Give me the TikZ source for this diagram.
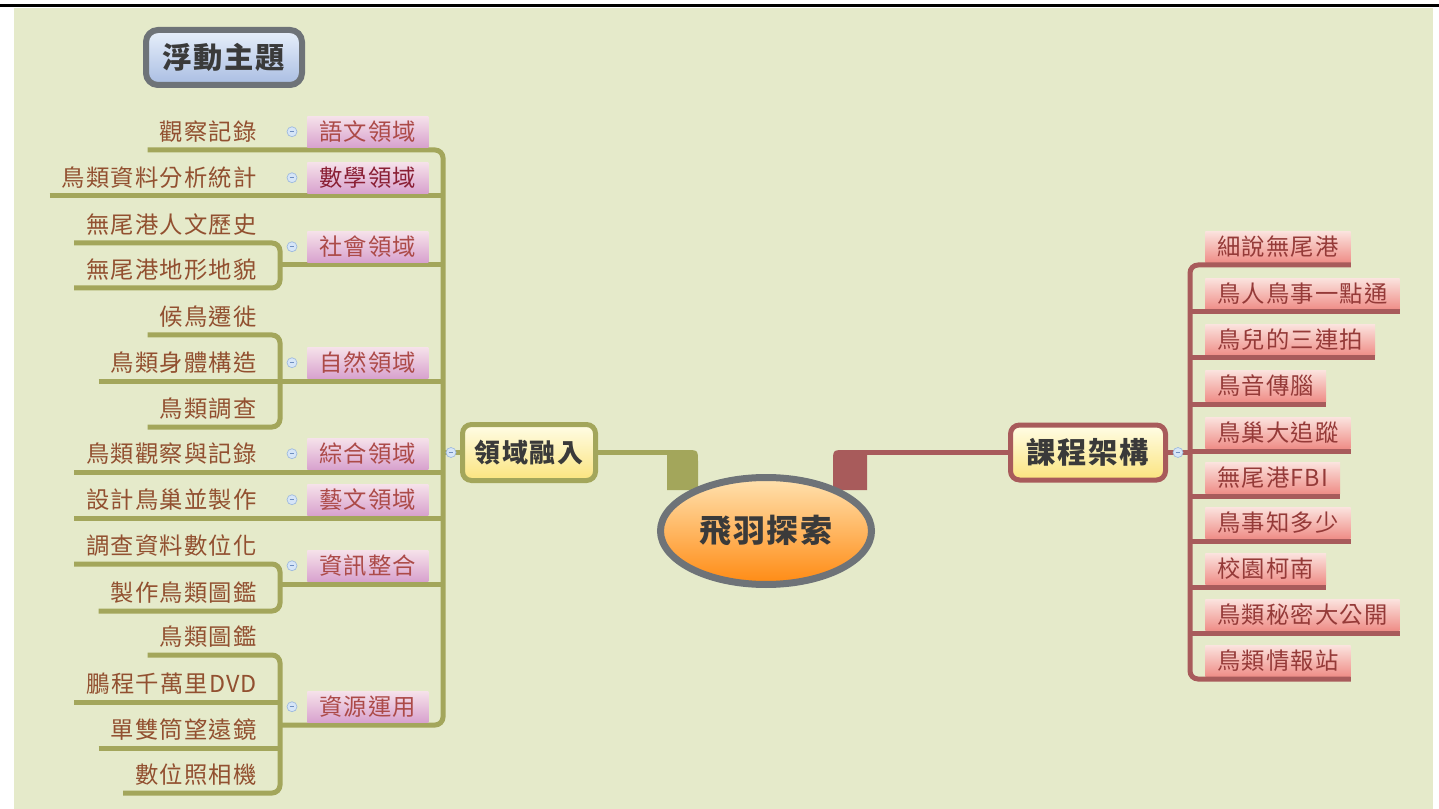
\documentclass[tikz,border=0pt]{standalone}
\usepackage{fontspec}
\usetikzlibrary{shapes.geometric}
\newfontfamily\cjk[LetterSpace=5]{Noto Sans CJK TC}
\newfontfamily\cjkm[LetterSpace=6]{Noto Sans CJK TC}
\definecolor{bg}{HTML}{E5EACA}
\definecolor{olv}{HTML}{A3A65B}
\definecolor{rln}{HTML}{A85B5B}
\definecolor{chtx}{HTML}{925030}
\definecolor{dmtx}{HTML}{AC4A48}
\definecolor{dmtxd}{HTML}{8A1F35}
\definecolor{rltx}{HTML}{953A38}
\definecolor{pkT}{HTML}{F6E2EA}
\definecolor{pkB}{HTML}{D8A2CE}
\definecolor{slT}{HTML}{FBE3DE}
\definecolor{slB}{HTML}{EF8E88}
\definecolor{ylT}{HTML}{FFFDE6}
\definecolor{ylB}{HTML}{FBE47E}
\definecolor{blT}{HTML}{E8F0FB}
\definecolor{blB}{HTML}{A9BDE2}
\definecolor{gryb}{HTML}{6E7378}
\definecolor{orT}{HTML}{FFE2B0}
\definecolor{orB}{HTML}{FF8A12}
\definecolor{icF}{HTML}{D6E5F7}
\definecolor{icD}{HTML}{9DB9DE}
\definecolor{icM}{HTML}{6F8FC0}
\definecolor{ttx}{HTML}{3A3A3A}
\begin{document}
\begin{tikzpicture}[x=0.75pt,y=-0.75pt,
  oline/.style={line width=3.75pt, draw=olv, rounded corners=6pt},
  rline/.style={line width=3.75pt, draw=rln, rounded corners=6pt},
  leaftxt/.style={font=\cjk\fontsize{17.5}{20}\selectfont, text=chtx, inner xsep=9pt, inner ysep=0pt, anchor=east},
  dlabel/.style={font=\cjk\fontsize{17.5}{20}\selectfont, text=dmtx, top color=pkT, bottom color=pkB, draw=none, minimum width=90.75pt, minimum height=23.25pt, inner sep=0pt, anchor=south west},
  rlabel/.style={font=\cjk\fontsize{17.5}{20}\selectfont, text=rltx, top color=slT, bottom color=slB, draw=none, minimum height=23.25pt, inner xsep=9pt, inner ysep=0pt, anchor=south west},
  mainbox/.style={rectangle, rounded corners=6.75pt, line width=3.75pt, top color=ylT, bottom color=ylB, inner sep=0pt, text=ttx, font=\cjkm\bfseries},
  togicon/.style={circle, minimum size=7.5pt, inner sep=0pt, fill=icF, draw=icD, line width=0.5pt,
    path picture={\draw[icM, line width=0.8pt] ([xshift=-1.8pt]path picture bounding box.center) -- ([xshift=1.8pt]path picture bounding box.center);}},
]
\useasboundingbox (0,0) rectangle (1439,809);
\fill[bg] (14,8) rectangle (1433,809);
\draw[line width=2.25pt] (0,6) -- (1439,6);

% floating topic
\node[rectangle, rounded corners=9pt, line width=4.5pt, draw=gryb, top color=blT, bottom color=blB,
  minimum width=117pt, minimum height=41.25pt, inner sep=0pt, text=ttx,
  font=\cjkm\bfseries\fontsize{22}{26}\selectfont] (ft) at (224,57.5) {浮動主題};

% ---------- left side coordinates ----------
\coordinate (L1) at (443,150);
\coordinate (L2) at (443,196);
\coordinate (L3) at (443,265);
\coordinate (L4) at (443,381);
\coordinate (L5) at (443,472);
\coordinate (L6) at (443,518);
\coordinate (L7) at (443,584);
\coordinate (L8) at (443,725);
\coordinate (B3) at (280,265);
\coordinate (B7) at (280,584);
\coordinate (B8) at (280,725);
\coordinate (S3a) at (280,243);
\coordinate (S3b) at (280,288);
\coordinate (S4a) at (280,335);
\coordinate (S4b) at (280,427);
\coordinate (S7a) at (280,564);
\coordinate (S7b) at (280,611);
\coordinate (S8a) at (280,655);
\coordinate (S8b) at (280,702);
\coordinate (S8c) at (280,748);
\coordinate (S8d) at (280,793);

% leaf texts
\node[leaftxt] (c1) at (269,131.5) {觀察記錄};
\node[leaftxt] (c2) at (269,177.5) {鳥類資料分析統計};
\node[leaftxt] (c3a) at (269,224.5) {無尾港人文歷史};
\node[leaftxt] (c3b) at (269,269.5) {無尾港地形地貌};
\node[leaftxt] (c4a) at (269,316.5) {候鳥遷徙};
\node[leaftxt] (c4b) at (269,362.5) {鳥類身體構造};
\node[leaftxt] (c4c) at (269,408.5) {鳥類調查};
\node[leaftxt] (c5) at (269,453.5) {鳥類觀察與記錄};
\node[leaftxt] (c6) at (269,499.5) {設計鳥巢並製作};
\node[leaftxt] (c7a) at (269,545.5) {調查資料數位化};
\node[leaftxt] (c7b) at (269,592.5) {製作鳥類圖鑑};
\node[leaftxt] (c8a) at (269,636.5) {鳥類圖鑑};
\node[leaftxt] (c8b) at (269,683.5) {鵬程千萬里DVD};
\node[leaftxt] (c8c) at (269,729.5) {單雙筒望遠鏡};
\node[leaftxt] (c8d) at (269,774.5) {數位照相機};

% left lines
\draw[oline] (c1.west |- L1) -- (L1) -- (L8) -- (B8);
\draw[oline] (c2.west |- L2) -- (L2);
\draw[oline] (B3) -- (L3);
\draw[oline] (c3a.west |- S3a) -- (S3a) -- (S3b) -- (c3b.west |- S3b);
\draw[oline] (c4a.west |- S4a) -- (S4a) -- (S4b) -- (c4c.west |- S4b);
\draw[oline] (c4b.west |- L4) -- (L4);
\draw[oline] (c5.west |- L5) -- (L5);
\draw[oline] (c6.west |- L6) -- (L6);
\draw[oline] (c7a.west |- S7a) -- (S7a) -- (S7b) -- (c7b.west |- S7b);
\draw[oline] (B7) -- (L7);
\draw[oline] (c8a.west |- S8a) -- (S8a) -- (S8d) -- (c8d.west |- S8d);
\draw[oline] (c8b.west |- S8b) -- (S8b);
\draw[oline] (c8c.west |- S8c) -- (S8c);

% domain labels
\node[dlabel] (d1) at (307,147.5) {語文領域};
\node[dlabel, text=dmtxd] (d2) at (307,193.5) {數學領域};
\node[dlabel] (d3) at (307,262.5) {社會領域};
\node[dlabel] (d4) at (307,378.5) {自然領域};
\node[dlabel] (d5) at (307,469.5) {綜合領域};
\node[dlabel] (d6) at (307,515.5) {藝文領域};
\node[dlabel] (d7) at (307,581.5) {資訊整合};
\node[dlabel] (d8) at (307,722.5) {資源運用};

\foreach \n in {1,...,8} { \node[togicon] (i\n) at ([xshift=-11.25pt]d\n.west) {}; }

% main left node
\node[mainbox, draw=olv, minimum width=99.75pt, minimum height=42pt,
  font=\cjkm\bfseries\fontsize{19.5}{23}\selectfont] (ly) at (529,452.5) {領域融入};
\draw[oline] (ly.west) -- (L1 |- ly.west);
\node[togicon] (il) at (451,452.5) {};

% ---------- right side ----------
\coordinate (R1) at (1190,265);
\coordinate (R2) at (1190,312);
\coordinate (R3) at (1190,358);
\coordinate (R4) at (1190,404);
\coordinate (R5) at (1190,451);
\coordinate (R6) at (1190,496);
\coordinate (R7) at (1190,541);
\coordinate (R8) at (1190,587);
\coordinate (R9) at (1190,633);
\coordinate (R10) at (1190,679);

\node[rlabel] (r1) at (1205,262.5) {細說無尾港};
\node[rlabel] (r2) at (1205,309.5) {鳥人鳥事一點通};
\node[rlabel] (r3) at (1205,355.5) {鳥兒的三連拍};
\node[rlabel] (r4) at (1205,401.5) {鳥音傳腦};
\node[rlabel] (r5) at (1205,448.5) {鳥巢大追蹤};
\node[rlabel] (r6) at (1205,493.5) {無尾港FBI};
\node[rlabel] (r7) at (1205,538.5) {鳥事知多少};
\node[rlabel] (r8) at (1205,584.5) {校園柯南};
\node[rlabel] (r9) at (1205,630.5) {鳥類秘密大公開};
\node[rlabel] (r10) at (1205,676.5) {鳥類情報站};

\draw[rline] (r1.south east |- R1) -- (R1) -- (R10) -- (r10.south east |- R10);
\foreach \n in {2,...,9} { \draw[rline] (R\n) -- (r\n.south east |- R\n); }

\node[mainbox, draw=rln, minimum width=116.25pt, minimum height=41.25pt,
  font=\cjkm\bfseries\fontsize{22}{26}\selectfont] (kc) at (1088,452.5) {課程架構};
\draw[rline] (kc.east) -- (kc.east -| R5);
\node[togicon] (ir) at (1178,452.5) {};

% ---------- centre ----------
\draw[line width=3.75pt, olv] (ly.east) -- (680,452.5);
\fill[olv] (667,490) -- (667,450) -- (686,450) .. controls (698,450) .. (698,462) -- (698,490) -- cycle;
\draw[line width=3.75pt, rln] (850,452.5) -- (kc.west);
\fill[rln] (867,490) -- (867,450) -- (845,450) .. controls (833,450) .. (833,462) -- (833,490) -- cycle;

\node[ellipse, line width=5.25pt, draw=gryb, top color=orT, bottom color=orB,
  minimum width=158.25pt, minimum height=80.25pt, inner sep=0pt, text=ttx,
  font=\cjkm\bfseries\fontsize{24}{28}\selectfont] (ctr) at (766,531) {飛羽探索};
\end{tikzpicture}
\end{document}
